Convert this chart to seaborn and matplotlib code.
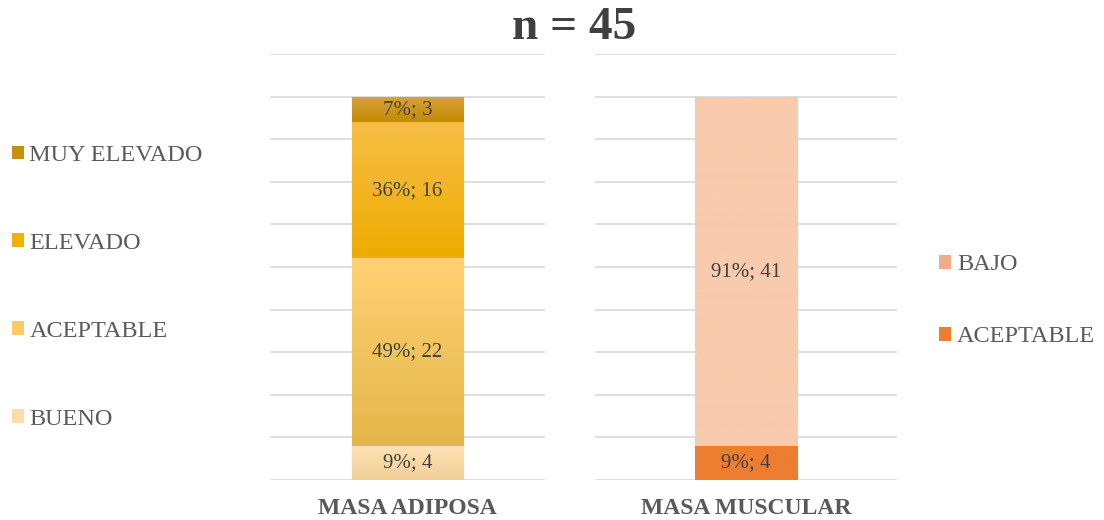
import numpy as np
import matplotlib
matplotlib.use("Agg")
import matplotlib.pyplot as plt
from matplotlib.colors import to_rgb
from matplotlib.patches import Patch
import seaborn as sns

# Sample size and composition categories
n_total = 45
categories = ["MASA ADIPOSA", "MASA MUSCULAR"]

adiposa_levels = ["BUENO", "ACEPTABLE", "ELEVADO", "MUY ELEVADO"]
adiposa_counts = [4, 22, 16, 3]
adiposa_pct = [9, 49, 36, 7]

muscular_levels = ["ACEPTABLE", "BAJO"]
muscular_counts = [4, 41]
muscular_pct = [9, 91]

# Fill colours (top shade, bottom shade) for each segment
adiposa_colors = [("#FFE3B5", "#F0CE98"),
                  ("#FFD173", "#E4B64A"),
                  ("#F7BE46", "#EEAC00"),
                  ("#D6A33E", "#C48A00")]
adiposa_legend_colors = ["#FBDDAA", "#FCCB66", "#F2B100", "#C98F10"]
muscular_colors = [("#ED7D31", "#ED7D31"),
                   ("#F8CBAD", "#F8CBAD")]
muscular_legend_colors = ["#ED7D31", "#F2AC8C"]

sns.set_theme(style="white")
plt.rcParams["font.family"] = ["Liberation Serif", "DejaVu Serif"]

TEXT = "#595959"
LABEL = "#404040"
GRID = "#D9D9D9"

fig = plt.figure(figsize=(11.04, 5.2), dpi=100)
ax_l = fig.add_axes([270 / 1104, 1 - 480 / 520, 275 / 1104, 426 / 520])
ax_r = fig.add_axes([595 / 1104, 1 - 480 / 520, 302 / 1104, 426 / 520])


def gradient_fill(ax, patch, top, bottom):
    x0, y0 = patch.get_x(), patch.get_y()
    w, h = patch.get_width(), patch.get_height()
    c_top, c_bot = np.array(to_rgb(top)), np.array(to_rgb(bottom))
    t = np.linspace(0, 1, 64)[:, None]
    img = (c_bot * (1 - t) + c_top * t)[:, None, :]
    im = ax.imshow(img, extent=(x0, x0 + w, y0, y0 + h), origin="lower",
                   aspect="auto", zorder=patch.get_zorder() + 0.1,
                   interpolation="bilinear")
    im.set_clip_path(patch)


def stacked(ax, cat, counts, pcts, colors, width):
    bottom = 0
    for cnt, pct, (top, bot) in zip(counts, pcts, colors):
        sns.barplot(x=[cat], y=[cnt], bottom=bottom, width=width,
                    color=bot, saturation=1, ax=ax, zorder=2,
                    edgecolor="#C8C8C8", linewidth=0.8)
        patch = ax.patches[-1]
        gradient_fill(ax, patch, top, bot)
        ax.text(0, bottom + cnt / 2, f"{pct}%; {cnt}", ha="center",
                va="center", fontsize=15, color=LABEL, zorder=5)
        bottom += cnt


stacked(ax_l, categories[0], adiposa_counts, adiposa_pct, adiposa_colors, 0.407)
stacked(ax_r, categories[1], muscular_counts, muscular_pct, muscular_colors, 0.338)

for ax in (ax_l, ax_r):
    ax.set_xlim(-0.5, 0.5)
    ax.set_ylim(0, 50)
    ax.set_yticks(np.arange(0, 51, 5))
    ax.yaxis.grid(True, color=GRID, linewidth=1.2)
    ax.set_axisbelow(True)
    ax.tick_params(axis="y", left=False, labelleft=False)
    ax.tick_params(axis="x", bottom=False, labelsize=17, labelcolor=TEXT, pad=7)
    for lbl in ax.get_xticklabels():
        lbl.set_fontweight("bold")
    for s in ax.spines.values():
        s.set_visible(False)
    ax.set_ylabel("")
    ax.set_xlabel("")
    ax.set_facecolor("none")

# Legends
h_l = [Patch(facecolor=c, edgecolor="none") for c in adiposa_legend_colors]
fig.legend(h_l[::-1], adiposa_levels[::-1], loc="upper left",
           bbox_to_anchor=(-0.009, 0.763), frameon=False, fontsize=17.5,
           labelcolor=TEXT, labelspacing=2.75, handlelength=0.5,
           handleheight=0.5, handletextpad=0.22)

h_r = [Patch(facecolor=c, edgecolor="none") for c in muscular_legend_colors]
fig.legend(h_r[::-1], muscular_levels[::-1], loc="upper left",
           bbox_to_anchor=(0.831, 0.553), frameon=False, fontsize=17.5,
           labelcolor=TEXT, labelspacing=2.1, handlelength=0.5,
           handleheight=0.5, handletextpad=0.22)

fig.text(0.520, 0.946, f"n = {n_total}", ha="center", va="center",
         fontsize=34, fontweight="bold", color=LABEL)

fig.savefig("out.png", dpi=100)
